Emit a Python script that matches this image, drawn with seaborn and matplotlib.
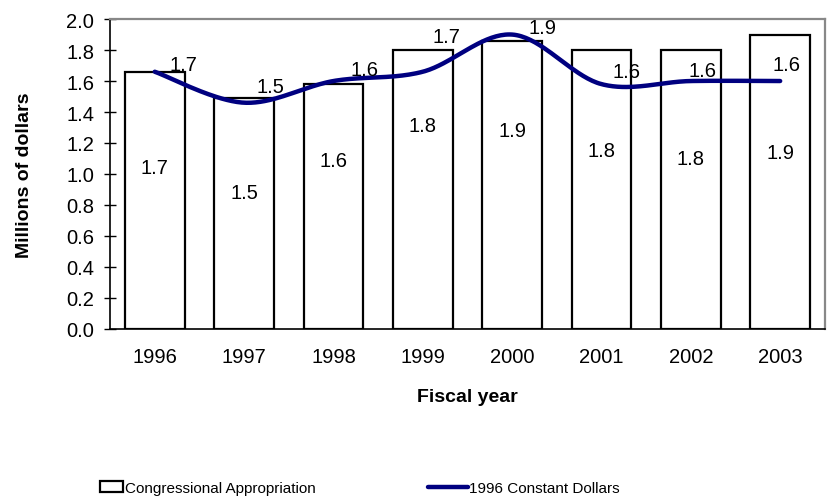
import numpy as np
import pandas as pd
import matplotlib
matplotlib.use('Agg')
import matplotlib.pyplot as plt
import seaborn as sns
from matplotlib.patches import Patch
from matplotlib.lines import Line2D

# values (millions of dollars)
years = ['1996', '1997', '1998', '1999', '2000', '2001', '2002', '2003']
appropriation = [1.66, 1.49, 1.58, 1.80, 1.86, 1.80, 1.80, 1.90]
constant_1996 = [1.66, 1.46, 1.60, 1.66, 1.90, 1.58, 1.60, 1.60]

# where the labels sit (layout only)
bar_label_y = [1.04, 0.88, 1.09, 1.31, 1.28, 1.15, 1.10, 1.14]
line_label_offsets = [(29, 7), (26, 16), (31, 12), (24, 35), (30, 7), (25, 13), (12, 11), (6, 17)]


def smooth_line(xs, ys, steps=40):
    # excel style smoothed line (bezier through points, catmull-rom tangents)
    pts = np.column_stack([xs, ys]).astype(float)
    padded = np.vstack([pts[0], pts, pts[-1]])
    out = []
    t = np.linspace(0, 1, steps)[:, None]
    for i in range(len(pts) - 1):
        p0, p1, p2, p3 = padded[i], padded[i + 1], padded[i + 2], padded[i + 3]
        c1 = p1 + (p2 - p0) / 6
        c2 = p2 - (p3 - p1) / 6
        seg = ((1 - t) ** 3) * p1 + 3 * ((1 - t) ** 2) * t * c1 + 3 * (1 - t) * t ** 2 * c2 + t ** 3 * p2
        out.append(seg if i == 0 else seg[1:])
    out = np.vstack(out)
    return out[:, 0], out[:, 1]


df = pd.DataFrame({'year': years, 'appropriation': appropriation, 'constant': constant_1996})

sns.set_style('white')
plt.rcParams['font.family'] = ['Liberation Sans', 'DejaVu Sans']
plt.rcParams['text.color'] = 'black'
plt.rcParams['axes.labelcolor'] = 'black'
plt.rcParams['xtick.color'] = 'black'
plt.rcParams['ytick.color'] = 'black'

fig, ax = plt.subplots(figsize=(8.34, 5.02), dpi=100)
fig.subplots_adjust(left=0.132, right=0.989, bottom=0.343, top=0.960)

sns.barplot(data=df, x='year', y='appropriation', color='white', saturation=1,
            edgecolor='black', linewidth=1.6, width=0.67, ax=ax)

sx, sy = smooth_line(np.arange(len(years)), df['constant'].values)
ax.plot(sx, sy, color='#000080', lw=3.2, solid_capstyle='round', zorder=3)

for i, (v, ly) in enumerate(zip(appropriation, bar_label_y)):
    ax.text(i, ly, f'{v:.1f}', ha='center', va='center', fontsize=14.5, zorder=4)

for i, (v, off) in enumerate(zip(constant_1996, line_label_offsets)):
    ax.annotate(f'{v:.1f}', (i, v), xytext=off, textcoords='offset pixels',
                ha='center', va='center', fontsize=14.5, zorder=4)

ax.set_xlim(-0.5, 7.5)
ax.set_ylim(0, 2.0)
ax.set_yticks(np.arange(0, 2.01, 0.2))
ax.set_yticklabels([f'{v:.1f}' for v in np.arange(0, 2.01, 0.2)], fontsize=14.5)
ax.set_xticks(np.arange(-0.5, 8, 1))
ax.set_xticklabels([])
ax.set_xticks(range(len(years)), minor=True)
ax.set_xticklabels(years, minor=True, fontsize=14.5)
ax.tick_params(axis='x', which='major', direction='inout', length=9, width=1, color='black')
ax.tick_params(axis='x', which='minor', length=0, pad=13)
ax.tick_params(axis='y', direction='inout', length=9, width=1, color='black', pad=7, left=True)

for side in ['left', 'bottom']:
    ax.spines[side].set_color('black')
    ax.spines[side].set_linewidth(1.2)
for side in ['top', 'right']:
    ax.spines[side].set_color('#888888')
    ax.spines[side].set_linewidth(1.6)

ax.set_xlabel('Fiscal year', fontsize=14, fontweight='bold')
ax.set_ylabel('Millions of dollars', fontsize=14, fontweight='bold')
ax.xaxis.set_label_coords(0.5, -0.19)
ax.yaxis.set_label_coords(-0.108, 0.5)

bar_handle = Patch(facecolor='white', edgecolor='black', linewidth=1.6)
line_handle = Line2D([], [], color='#000080', lw=3.2)
leg1 = fig.legend([bar_handle], ['Congressional Appropriation'], loc='center left',
                  bbox_to_anchor=(0.12, 0.026), frameon=False, fontsize=11,
                  handlelength=1.5, handleheight=0.75, handletextpad=0.15,
                  borderpad=0, borderaxespad=0)
leg2 = fig.legend([line_handle], ['1996 Constant Dollars'], loc='center left',
                  bbox_to_anchor=(0.513, 0.026), frameon=False, fontsize=11,
                  handlelength=2.6, handletextpad=0.1, borderpad=0, borderaxespad=0)

plt.savefig('out.png', dpi=100)
